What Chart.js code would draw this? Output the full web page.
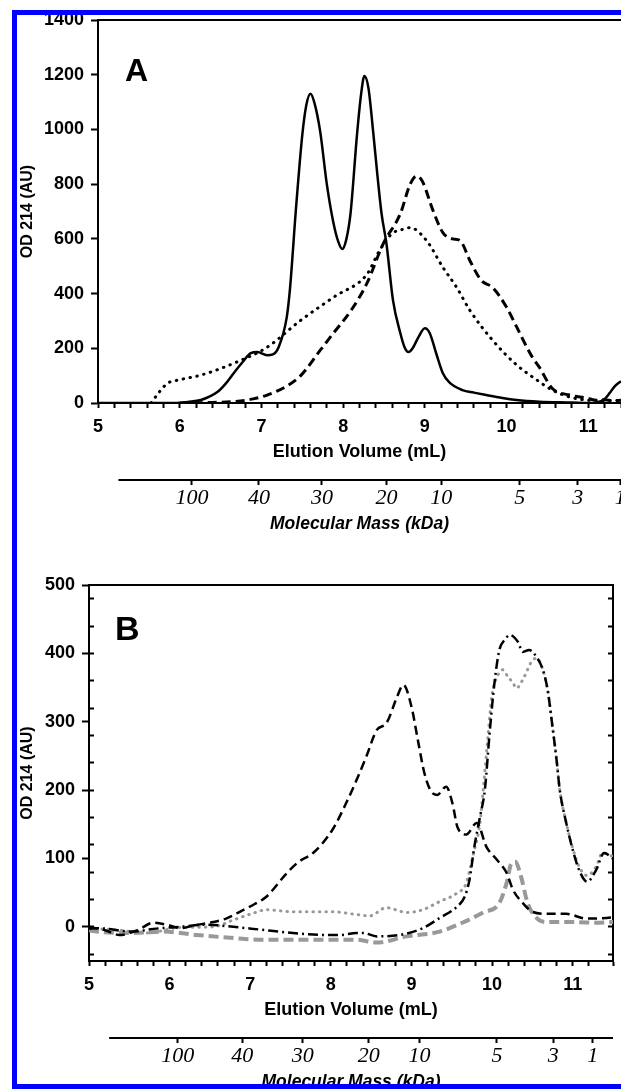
<!DOCTYPE html>
<html>
<head>
<meta charset="utf-8">
<script src="https://cdn.jsdelivr.net/npm/chart.js@4.4.1/dist/chart.umd.min.js"></script>
<style>
  html, body { margin: 0; padding: 0; background: #fff; }
  body { width: 621px; height: 1089px; overflow: hidden; position: relative; font-family: "Liberation Sans", Arial, sans-serif; }
  canvas { position: absolute; left: 0; }
  #cA { top: 0; }
  #cB { top: 560px; }
  #frame {
    position: absolute; left: 12px; top: 10px; width: 640px; height: 1069px;
    border-left: 5px solid #0000ff; border-top: 5px solid #0000ff; border-bottom: 5px solid #0000ff;
    z-index: 5; pointer-events: none;
  }
  .panel { position: absolute; font-weight: bold; line-height: 1; color: #000; z-index: 4; }
  #lblA { left: 125px; top: 54px; font-size: 32px; }
  #lblB { left: 115px; top: 611px; font-size: 34px; }
</style>
</head>
<body>
<canvas id="cA" width="621" height="545"></canvas>
<canvas id="cB" width="621" height="543"></canvas>
<div id="lblA" class="panel">A</div>
<div id="lblB" class="panel">B</div>
<div id="frame"></div>
<script>
// panel A
const aSolidX = [5.0, 5.95, 6.1, 6.26, 6.46, 6.56, 6.66, 6.77, 6.87, 6.95, 7.07, 7.14, 7.21, 7.31, 7.35, 7.42, 7.5, 7.55, 7.6, 7.65, 7.72, 7.8, 7.88, 7.94, 7.99, 8.04, 8.09, 8.17, 8.22, 8.26, 8.31, 8.37, 8.42, 8.47, 8.53, 8.61, 8.7, 8.75, 8.8, 8.85, 8.92, 9.0, 9.06, 9.14, 9.22, 9.3, 9.46, 9.6, 9.75, 9.95, 10.12, 10.4, 10.8, 11.0, 11.1, 11.2, 11.26, 11.32, 11.4];
const aSolidY = [0, 0, 4, 11, 40, 70, 109, 150, 182, 186, 175, 178, 204, 314, 420, 700, 980, 1090, 1130, 1095, 990, 800, 660, 590, 563, 600, 692, 983, 1130, 1195, 1150, 983, 830, 692, 582, 375, 255, 205, 186, 200, 240, 273, 255, 180, 109, 75, 47, 38, 29, 18, 11, 5, 2, 0, 2, 15, 36, 60, 80];

const aDashX = [6.0, 6.4, 6.66, 6.9, 7.07, 7.3, 7.48, 7.72, 7.88, 8.1, 8.29, 8.49, 8.7, 8.82, 8.9, 8.97, 9.1, 9.22, 9.34, 9.43, 9.55, 9.69, 9.83, 10.0, 10.12, 10.3, 10.4, 10.56, 10.77, 10.98, 11.1, 11.2, 11.3, 11.4];
const aDashY = [0, 2, 5, 15, 29, 60, 100, 193, 255, 340, 437, 582, 692, 800, 830, 810, 703, 623, 600, 594, 521, 448, 422, 350, 280, 175, 131, 53, 29, 18, 10, 12, 8, 10];

const aDotX = [5.65, 5.75, 5.85, 6.0, 6.26, 6.66, 7.07, 7.48, 7.9, 8.29, 8.45, 8.6, 8.7, 8.82, 9.02, 9.22, 9.39, 9.55, 9.83, 10.12, 10.37, 10.56, 10.77, 11.0, 11.2, 11.4];
const aDotY = [0, 40, 72, 85, 102, 145, 204, 302, 390, 470, 560, 620, 632, 641, 594, 496, 422, 339, 229, 140, 84, 47, 22, 10, 8, 10];

// panel B
const bDashX = [5.0, 5.2, 5.38, 5.6, 5.8, 6.0, 6.13, 6.3, 6.54, 6.7, 6.87, 7.05, 7.2, 7.45, 7.6, 7.78, 8.02, 8.19, 8.32, 8.44, 8.57, 8.69, 8.82, 8.9, 9.0, 9.08, 9.16, 9.25, 9.32, 9.43, 9.51, 9.57, 9.68, 9.81, 9.93, 10.06, 10.18, 10.26, 10.38, 10.5, 10.68, 10.92, 11.17, 11.42, 11.5];
const bDashY = [0, -5, -12, -5, 6, 2, -2, 2, 7, 12, 22, 33, 44, 78, 95, 108, 142, 181, 215, 249, 288, 298, 336, 354, 322, 273, 225, 197, 193, 205, 180, 146, 135, 152, 117, 98, 79, 54, 35, 22, 19, 19, 12, 13, 14];

const bDashDotX = [5.0, 5.1, 5.55, 5.8, 6.13, 6.46, 6.79, 7.12, 7.53, 7.95, 8.11, 8.32, 8.4, 8.57, 8.85, 9.14, 9.35, 9.56, 9.66, 9.72, 9.78, 9.85, 9.91, 9.97, 10.03, 10.09, 10.16, 10.22, 10.32, 10.38, 10.46, 10.55, 10.63, 10.69, 10.75, 10.8, 10.84, 10.92, 11.0, 11.08, 11.18, 11.29, 11.39, 11.5];
const bDashDotY = [-3, -2, -7, -3, 0, 3, 0, -4, -9, -12, -12, -9, -9, -14, -12, -2, 13, 29, 44, 69, 117, 161, 200, 284, 357, 405, 420, 427, 417, 402, 405, 395, 376, 346, 292, 244, 200, 152, 113, 83, 66, 83, 108, 100];

const bDotX = [5.0, 5.3, 5.72, 6.13, 6.54, 6.79, 7.04, 7.2, 7.53, 8.02, 8.32, 8.48, 8.69, 8.94, 9.14, 9.35, 9.56, 9.68, 9.76, 9.85, 9.89, 9.95, 10.0, 10.06, 10.13, 10.2, 10.26, 10.3, 10.4, 10.49, 10.55, 10.63, 10.69, 10.75, 10.8, 10.84, 10.92, 11.0, 11.08, 11.18, 11.29, 11.37, 11.5];
const bDotY = [-3, -4, -9, -1, 0, 10, 20, 25, 22, 22, 18, 16, 28, 21, 25, 37, 49, 64, 103, 152, 200, 280, 340, 365, 376, 365, 357, 349, 366, 388, 393, 376, 346, 292, 244, 200, 152, 115, 88, 75, 88, 108, 103];

const bGrayDashX = [5.0, 5.1, 5.51, 5.92, 6.34, 6.75, 7.16, 7.58, 7.99, 8.32, 8.57, 8.94, 9.35, 9.63, 9.89, 10.09, 10.18, 10.24, 10.29, 10.36, 10.44, 10.55, 10.68, 11.0, 11.33, 11.5];
const bGrayDashY = [-5, -7, -9, -7, -12, -16, -19, -19, -19, -19, -23, -14, -7, 6, 21, 35, 64, 93, 95, 73, 35, 13, 7, 7, 6, 7];

// molecular mass scale (positions in mL on each panel)
const massLabels = ['100', '40', '30', '20', '10', '5', '3', '1'];
const massPosA = [6.15, 6.97, 7.74, 8.53, 9.2, 10.16, 10.87, 11.39];
const massPosB = [6.1, 6.9, 7.65, 8.47, 9.1, 10.06, 10.76, 11.25];

const SANS = '"Liberation Sans", Arial, sans-serif';
const SERIF = '"Liberation Serif", "Times New Roman", serif';
const tickFont = { family: SANS, size: 18, weight: 'bold' };
const titleFont = { family: SANS, size: 18, weight: 'bold' };
const yTitleFont = { family: SANS, size: 16, weight: 'bold' };
const massFont = { family: SERIF, size: 22, style: 'italic' };
const massTitleFont = { family: SANS, size: 17.5, weight: 'bold', style: 'italic' };

function pts(xs, ys) {
  return xs.map((x, i) => ({ x: x, y: ys[i] }));
}

function fixBox(size) {
  return function (s) {
    if (s.isHorizontal()) s.height = size; else s.width = size;
    s.paddingLeft = 0; s.paddingRight = 0; s.paddingTop = 0; s.paddingBottom = 0;
  };
}

function intLabel(v) {
  return Math.abs(v - Math.round(v)) < 1e-6 ? String(Math.round(v)) : '';
}

function line(data, color, width, dash, cap) {
  return {
    data: data,
    borderColor: color,
    borderWidth: width,
    borderDash: dash || [],
    borderCapStyle: cap || 'butt',
    pointRadius: 0,
    fill: false,
    cubicInterpolationMode: 'monotone'
  };
}

const massLine = {
  id: 'massLine',
  afterDraw(chart, args, opts) {
    const s = chart.scales.x2;
    const ctx = chart.ctx;
    ctx.save();
    ctx.strokeStyle = '#000';
    ctx.lineWidth = 2;
    ctx.beginPath();
    ctx.moveTo(s.getPixelForValue(opts.start), s.top + 1);
    ctx.lineTo(s.getPixelForValue(opts.end), s.top + 1);
    ctx.stroke();
    ctx.restore();
  }
};

function xAxes(xMax, massPos) {
  return {
    x: {
      type: 'linear', min: 5, max: xMax, position: 'bottom', weight: 0,
      ticks: { stepSize: 0.2, autoSkip: false, maxRotation: 0, padding: 8, callback: intLabel, font: tickFont, color: '#000' },
      grid: { drawOnChartArea: false, tickLength: 5, tickWidth: 2, tickColor: '#000' },
      border: { display: true, color: '#000', width: 2 },
      title: { display: true, text: 'Elution Volume (mL)', font: titleFont, color: '#000', padding: { top: 0, bottom: 16 } },
      afterFit: fixBox(76)
    },
    x2: {
      type: 'linear', min: 5, max: xMax, position: 'bottom', weight: 1,
      afterBuildTicks: (s) => { s.ticks = massPos.map((v) => ({ value: v })); },
      ticks: { autoSkip: false, maxRotation: 0, padding: 0, callback: (v, i) => massLabels[i], font: massFont, color: '#000' },
      grid: { drawOnChartArea: false, tickLength: 6, tickWidth: 2, tickColor: '#000' },
      border: { display: false },
      title: { display: true, text: 'Molecular Mass (kDa)', font: massTitleFont, color: '#000', padding: { top: 0, bottom: 10 } },
      afterFit: fixBox(66)
    },
    xTop: {
      type: 'linear', min: 5, max: xMax, position: 'top',
      grid: { display: false }, ticks: { display: false },
      border: { display: true, color: '#000', width: 2 },
      afterFit: fixBox(0)
    }
  };
}

const yTitle = { display: true, text: 'OD 214 (AU)', font: yTitleFont, color: '#000', padding: { top: 18, bottom: 0 } };

Chart.defaults.color = '#000';
Chart.defaults.font.family = SANS;

// Panel A
const scalesA = xAxes(11.4, massPosA);
scalesA.y = {
  type: 'linear', min: 0, max: 1400, position: 'left',
  ticks: { stepSize: 200, padding: 7, font: tickFont, color: '#000', callback: (v) => String(v) },
  grid: { drawOnChartArea: false, tickLength: 7, tickWidth: 2, tickColor: '#000' },
  border: { display: true, color: '#000', width: 2 },
  title: yTitle,
  afterFit: fixBox(98)
};

new Chart(document.getElementById('cA'), {
  type: 'line',
  data: {
    datasets: [
      line(pts(aSolidX, aSolidY), '#000', 2.5),
      line(pts(aDashX, aDashY), '#000', 3, [9, 5]),
      line(pts(aDotX, aDotY), '#000', 3, [0.5, 6.5], 'round')
    ]
  },
  options: {
    responsive: false, animation: false, devicePixelRatio: 1,
    layout: { padding: { top: 20, left: 0, right: 0, bottom: 0 } },
    plugins: { legend: { display: false }, tooltip: { enabled: false }, massLine: { start: 5.25, end: 11.4 } },
    scales: scalesA
  },
  plugins: [massLine]
});

// Panel B
const scalesB = xAxes(11.5, massPosB);
scalesB.y = {
  type: 'linear', min: -50, max: 500, position: 'left', weight: 1,
  ticks: { stepSize: 100, includeBounds: false, padding: 7, font: tickFont, color: '#000', callback: (v) => (v % 100 === 0 ? String(v) : '') },
  grid: { drawOnChartArea: false, tickLength: 7, tickWidth: 2, tickColor: '#000' },
  border: { display: true, color: '#000', width: 2 },
  title: yTitle,
  afterFit: fixBox(89)
};
scalesB.yMinor = {
  type: 'linear', min: -50, max: 500, position: 'left', weight: 0,
  ticks: { stepSize: 20, includeBounds: false, callback: () => '' },
  grid: { drawOnChartArea: false, tickLength: -5, tickWidth: 2, tickColor: '#000' },
  border: { display: false },
  afterFit: fixBox(0)
};
scalesB.y2 = {
  type: 'linear', min: -50, max: 500, position: 'right',
  ticks: { stepSize: 20, includeBounds: false, callback: () => '' },
  grid: { drawOnChartArea: false, tickLength: -5, tickWidth: 2, tickColor: '#000' },
  border: { display: true, color: '#000', width: 2 },
  afterFit: fixBox(8)
};

new Chart(document.getElementById('cB'), {
  type: 'line',
  data: {
    datasets: [
      line(pts(bDashX, bDashY), '#000', 2.5, [9, 5]),
      line(pts(bDashDotX, bDashDotY), '#000', 2.5, [10, 4, 2, 4]),
      line(pts(bDotX, bDotY), '#999', 3, [0.5, 6], 'round'),
      line(pts(bGrayDashX, bGrayDashY), '#999', 4, [10, 5])
    ]
  },
  options: {
    responsive: false, animation: false, devicePixelRatio: 1,
    layout: { padding: { top: 25, left: 0, right: 0, bottom: 0 } },
    plugins: { legend: { display: false }, tooltip: { enabled: false }, massLine: { start: 5.25, end: 11.5 } },
    scales: scalesB
  },
  plugins: [massLine]
});
</script>
</body>
</html>
